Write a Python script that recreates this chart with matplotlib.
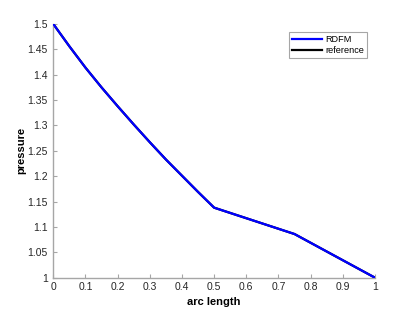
import matplotlib
matplotlib.use("Agg")
import matplotlib.pyplot as plt
import numpy as np

plt.rcParams['font.family'] = ['Liberation Sans', 'DejaVu Sans']

# valores
arc = [0, 0.05, 0.1, 0.15, 0.2, 0.25, 0.3, 0.35, 0.4, 0.45, 0.5, 0.75, 1.0]
rdfm = [1.5, 1.456, 1.414, 1.375, 1.338, 1.302, 1.267, 1.233, 1.201, 1.169, 1.138, 1.086, 1.0]
referencia = [1.5, 1.456, 1.414, 1.375, 1.338, 1.302, 1.267, 1.233, 1.201, 1.169, 1.138, 1.086, 1.0]

xticks = np.arange(0, 1.01, 0.1)
yticks = np.arange(1, 1.501, 0.05)

fig = plt.figure(figsize=(4.15, 3.12), dpi=100)
ax = fig.add_axes([0.1285, 0.110, 0.775, 0.813])

ax.plot(arc, rdfm, color='#0000ff', lw=1.6, label='RDFM', zorder=3)
ax.plot(arc, referencia, color='black', lw=1.6, label='reference', zorder=2)

ax.set_xlim(0, 1)
ax.set_ylim(1, 1.5)
ax.set_xticks(xticks)
ax.set_xticklabels(['0', '0.1', '0.2', '0.3', '0.4', '0.5', '0.6', '0.7', '0.8', '0.9', '1'])
ax.set_yticks(yticks)
ax.set_yticklabels(['1', '1.05', '1.1', '1.15', '1.2', '1.25', '1.3', '1.35', '1.4', '1.45', '1.5'])

for s in ['top', 'right']:
    ax.spines[s].set_visible(False)
for s in ['left', 'bottom']:
    ax.spines[s].set_color('#a6a6a6')
    ax.spines[s].set_linewidth(1.0)
ax.tick_params(direction='in', length=3, width=0.8, colors='#a6a6a6',
               labelcolor='#262626', labelsize=7.5)
ax.tick_params(axis='x', pad=3)
ax.tick_params(axis='y', pad=4)

ax.set_xlabel('arc length', fontsize=8, fontweight='bold', labelpad=4)
ax.set_ylabel('pressure', fontsize=8, fontweight='bold', labelpad=1)

leg = ax.legend(loc='upper right', bbox_to_anchor=(0.976, 0.970), fontsize=6.6,
                fancybox=False, framealpha=1, edgecolor='#a6a6a6',
                handlelength=3.3, handletextpad=0.3, borderpad=0.35,
                labelspacing=0.25, borderaxespad=0)
leg.get_frame().set_linewidth(0.8)

fig.savefig('out.png', dpi=100)
